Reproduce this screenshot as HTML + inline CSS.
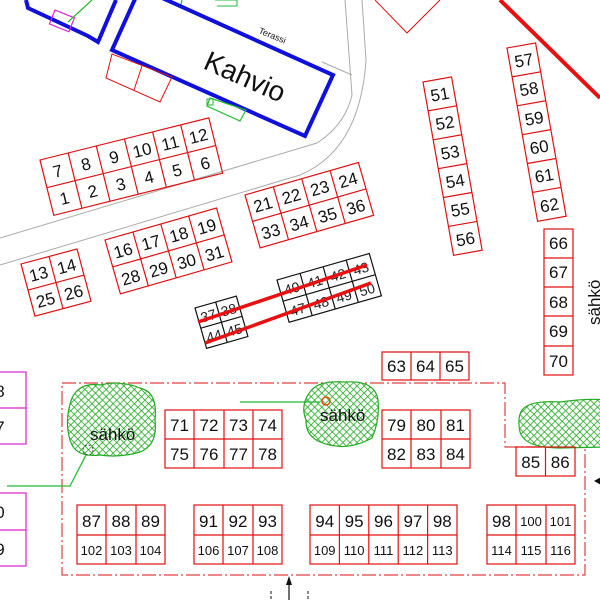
<!DOCTYPE html>
<html><head><meta charset="utf-8"><style>
html,body{margin:0;padding:0;background:#fff;width:600px;height:600px;overflow:hidden}
svg{display:block}
text{font-family:"Liberation Sans","DejaVu Sans",sans-serif;fill:#111}
.c{fill:none;stroke:#e01010;stroke-width:1.2}
.k{fill:none;stroke:#111;stroke-width:1.2}
.n{font-size:17px;text-anchor:middle}
.s{font-size:13px;text-anchor:middle}
.t{font-size:14px;text-anchor:middle;fill:#222}
</style></head><body>
<svg width="600" height="600" viewBox="0 0 600 600" xmlns="http://www.w3.org/2000/svg">
<defs>
<pattern id="h" width="5" height="5" patternUnits="userSpaceOnUse" patternTransform="rotate(45)">
<rect width="5" height="5" fill="#fff"/>
<line x1="0" y1="0" x2="0" y2="5" stroke="#22aa22" stroke-width="1.6"/>
<line x1="0" y1="0" x2="5" y2="0" stroke="#22aa22" stroke-width="1.6"/>
</pattern>
</defs>

<!-- road lines -->
<path d="M0,238 L317,143 Q345,125 352,95 L345,0" fill="none" stroke="#aaa" stroke-width="1"/>
<path d="M0,265 L300,175 Q360,150 366,60 L362,0" fill="none" stroke="#aaa" stroke-width="1"/>
<line x1="322" y1="62" x2="352" y2="75" stroke="#aaa" stroke-width="1"/>

<!-- top-left building -->
<polyline points="26,0 28,8 88,36 98,42 116,0" fill="none" stroke="#1010dd" stroke-width="4"/>
<rect x="55" y="10" width="21" height="15" transform="rotate(22 55 10)" fill="none" stroke="#dd22cc" stroke-width="1.2"/>
<line x1="68" y1="22" x2="92" y2="0" stroke="#22bb33" stroke-width="1.2"/>

<!-- terrace -->
<polyline points="182,0 180,8 M215,0 L312,40 318,46 316,50 325,54 315,68" fill="none" stroke="#22bb33" stroke-width="1.3"/>
<polyline points="215,0 237,0 237,6 217,6" fill="none" stroke="#22bb33" stroke-width="1"/>
<text x="258" y="33" font-size="9" transform="rotate(22 258 33)" fill="#222">Terassi</text>

<!-- Kahvio -->
<polygon points="140,-12 333,75 305,136 112,50" fill="#fff" stroke="#1010dd" stroke-width="4"/>
<text x="202" y="68" font-size="28" transform="rotate(24 202 68)" fill="#111">Kahvio</text>
<!-- red squares under building -->
<polygon points="112,54 106,78 160,102 172,77" fill="none" stroke="#e01010" stroke-width="1"/>
<line x1="142" y1="66" x2="134" y2="90" stroke="#e01010" stroke-width="1"/>
<polygon points="210,98 207,106 240,121 246,110" fill="none" stroke="#22bb33" stroke-width="1.2"/>
<rect x="207" y="99" width="6" height="6" fill="none" stroke="#22bb33" stroke-width="1"/>

<!-- top red diamond and thick line -->
<polyline points="375,0 407,33 440,0" fill="none" stroke="#e01010" stroke-width="1"/>
<line x1="500" y1="0" x2="600" y2="98" stroke="#e81010" stroke-width="4"/>

<!-- block 1-12 -->
<g transform="translate(40,160) rotate(-14)">
<rect class="c" x="0" y="0" width="174" height="57"/>
<line class="c" x1="0" y1="28.5" x2="174" y2="28.5"/>
<line class="c" x1="29" y1="0" x2="29" y2="57"/><line class="c" x1="58" y1="0" x2="58" y2="57"/><line class="c" x1="87" y1="0" x2="87" y2="57"/><line class="c" x1="116" y1="0" x2="116" y2="57"/><line class="c" x1="145" y1="0" x2="145" y2="57"/>
<text class="n" x="14.5" y="21">7</text><text class="n" x="43.5" y="21">8</text><text class="n" x="72.5" y="21">9</text><text class="n" x="101.5" y="21">10</text><text class="n" x="130.5" y="21">11</text><text class="n" x="159.5" y="21">12</text>
<text class="n" x="14.5" y="49">1</text><text class="n" x="43.5" y="49">2</text><text class="n" x="72.5" y="49">3</text><text class="n" x="101.5" y="49">4</text><text class="n" x="130.5" y="49">5</text><text class="n" x="159.5" y="49">6</text>
</g>

<!-- block 16-31 -->
<g transform="translate(105,240) rotate(-16)">
<rect class="c" x="0" y="0" width="116" height="56"/>
<line class="c" x1="0" y1="28" x2="116" y2="28"/>
<line class="c" x1="29" y1="0" x2="29" y2="56"/><line class="c" x1="58" y1="0" x2="58" y2="56"/><line class="c" x1="87" y1="0" x2="87" y2="56"/>
<text class="n" x="14.5" y="21">16</text><text class="n" x="43.5" y="21">17</text><text class="n" x="72.5" y="21">18</text><text class="n" x="101.5" y="21">19</text>
<text class="n" x="14.5" y="49">28</text><text class="n" x="43.5" y="49">29</text><text class="n" x="72.5" y="49">30</text><text class="n" x="101.5" y="49">31</text>
</g>

<!-- block 13-26 -->
<g transform="translate(21,264) rotate(-15)">
<rect class="c" x="0" y="0" width="58" height="54"/>
<line class="c" x1="0" y1="27" x2="58" y2="27"/><line class="c" x1="29" y1="0" x2="29" y2="54"/>
<text class="n" x="14.5" y="20">13</text><text class="n" x="43.5" y="20">14</text>
<text class="n" x="14.5" y="47">25</text><text class="n" x="43.5" y="47">26</text>
</g>

<!-- block 21-36 -->
<g transform="translate(245,195) rotate(-16)">
<rect class="c" x="0" y="0" width="118" height="55"/>
<line class="c" x1="0" y1="27.5" x2="118" y2="27.5"/>
<line class="c" x1="29.5" y1="0" x2="29.5" y2="55"/><line class="c" x1="59" y1="0" x2="59" y2="55"/><line class="c" x1="88.5" y1="0" x2="88.5" y2="55"/>
<text class="n" x="14.7" y="20">21</text><text class="n" x="44.2" y="20">22</text><text class="n" x="73.7" y="20">23</text><text class="n" x="103.2" y="20">24</text>
<text class="n" x="14.7" y="48">33</text><text class="n" x="44.2" y="48">34</text><text class="n" x="73.7" y="48">35</text><text class="n" x="103.2" y="48">36</text>
</g>

<!-- black blocks -->
<g transform="translate(195,308) rotate(-16)">
<rect class="k" x="0" y="0" width="43" height="42"/>
<line class="k" x1="0" y1="21" x2="43" y2="21"/><line class="k" x1="21.5" y1="0" x2="21.5" y2="42"/>
<text class="t" x="10.7" y="16">37</text><text class="t" x="32" y="16">38</text>
<text class="t" x="10.7" y="37">44</text><text class="t" x="32" y="37">45</text>
</g>
<g transform="translate(277,280) rotate(-16)">
<rect class="k" x="0" y="0" width="96" height="44"/>
<line class="k" x1="0" y1="22" x2="96" y2="22"/>
<line class="k" x1="24" y1="0" x2="24" y2="44"/><line class="k" x1="48" y1="0" x2="48" y2="44"/><line class="k" x1="72" y1="0" x2="72" y2="44"/>
<text class="t" x="12" y="17">40</text><text class="t" x="36" y="17">41</text><text class="t" x="60" y="17">42</text><text class="t" x="84" y="17">43</text>
<text class="t" x="12" y="39">47</text><text class="t" x="36" y="39">48</text><text class="t" x="60" y="39">49</text><text class="t" x="84" y="39">50</text>
</g>
<line x1="198" y1="322" x2="367" y2="265" stroke="#e81010" stroke-width="3.5"/>
<line x1="205" y1="343" x2="371" y2="283" stroke="#e81010" stroke-width="3.5"/>

<!-- 51-56 -->
<g transform="translate(423,82) rotate(-10)">
<rect class="c" x="0" y="0" width="29" height="176"/>
<line class="c" x1="0" y1="29.3" x2="29" y2="29.3"/><line class="c" x1="0" y1="58.7" x2="29" y2="58.7"/><line class="c" x1="0" y1="88" x2="29" y2="88"/><line class="c" x1="0" y1="117.3" x2="29" y2="117.3"/><line class="c" x1="0" y1="146.7" x2="29" y2="146.7"/>
<text class="n" x="14.5" y="21">51</text><text class="n" x="14.5" y="50">52</text><text class="n" x="14.5" y="80">53</text><text class="n" x="14.5" y="109">54</text><text class="n" x="14.5" y="138">55</text><text class="n" x="14.5" y="168">56</text>
</g>

<!-- 57-62 -->
<g transform="translate(507,48) rotate(-10)">
<rect class="c" x="0" y="0" width="29" height="176"/>
<line class="c" x1="0" y1="29.3" x2="29" y2="29.3"/><line class="c" x1="0" y1="58.7" x2="29" y2="58.7"/><line class="c" x1="0" y1="88" x2="29" y2="88"/><line class="c" x1="0" y1="117.3" x2="29" y2="117.3"/><line class="c" x1="0" y1="146.7" x2="29" y2="146.7"/>
<text class="n" x="14.5" y="21">57</text><text class="n" x="14.5" y="50">58</text><text class="n" x="14.5" y="80">59</text><text class="n" x="14.5" y="109">60</text><text class="n" x="14.5" y="138">61</text><text class="n" x="14.5" y="168">62</text>
</g>

<!-- 66-70 -->
<rect class="c" x="544" y="229" width="29" height="146"/>
<line class="c" x1="544" y1="258" x2="573" y2="258"/><line class="c" x1="544" y1="287" x2="573" y2="287"/><line class="c" x1="544" y1="316" x2="573" y2="316"/><line class="c" x1="544" y1="346" x2="573" y2="346"/>
<text class="n" x="558.5" y="249">66</text><text class="n" x="558.5" y="278">67</text><text class="n" x="558.5" y="308">68</text><text class="n" x="558.5" y="337">69</text><text class="n" x="558.5" y="367">70</text>
<text x="600" y="325" font-size="17" transform="rotate(-90 600 325)">sähkö</text>

<!-- 63-65 -->
<rect class="c" x="382" y="352" width="87" height="28"/>
<line class="c" x1="411" y1="352" x2="411" y2="380"/><line class="c" x1="440" y1="352" x2="440" y2="380"/>
<text class="n" x="396.5" y="372">63</text><text class="n" x="425.5" y="372">64</text><text class="n" x="454.5" y="372">65</text>

<!-- magenta left -->
<g fill="none" stroke="#dd22cc" stroke-width="1.2">
<rect x="-5" y="372" width="31" height="72"/><line x1="-5" y1="408" x2="26" y2="408"/>
<rect x="-5" y="493" width="31" height="73"/><line x1="-5" y1="530" x2="26" y2="530"/>
</g>
<text class="n" x="0" y="397">8</text><text class="n" x="0" y="433">7</text><text class="n" x="0" y="518">0</text><text class="n" x="0" y="555">9</text>

<!-- dash-dot outline -->
<polyline points="62,383 505,383 505,447 585,447 585,575 62,575 62,383" fill="none" stroke="#e04040" stroke-width="1.2" stroke-dasharray="14,3,2,3"/>

<!-- green blobs -->
<path d="M72,398 Q80,382 100,385 Q120,380 140,388 Q158,392 155,420 Q158,445 140,452 Q120,458 100,455 Q75,458 70,440 Q64,420 72,398Z" fill="url(#h)" stroke="#22aa22" stroke-width="1.2"/>
<text x="90" y="440" font-size="17">sähkö</text>
<circle cx="88" cy="450" r="5" fill="none" stroke="#222" stroke-width="0.8" stroke-dasharray="2,2"/>
<polyline points="86,455 70,486 7,486" fill="none" stroke="#22bb33" stroke-width="1.3"/>

<path d="M310,392 Q318,380 345,382 Q375,380 378,400 Q380,420 372,438 Q350,450 330,445 Q305,440 306,420 Q300,405 310,392Z" fill="url(#h)" stroke="#22aa22" stroke-width="1.2"/>
<text x="320" y="421" font-size="17">sähkö</text>
<circle cx="326" cy="401" r="4" fill="none" stroke="#e05010" stroke-width="1.5"/>
<line x1="240" y1="402" x2="320" y2="402" stroke="#22bb33" stroke-width="1.3"/>

<path d="M522,410 Q530,400 560,402 Q590,398 605,400 L605,447 L560,448 Q525,448 520,432 Q517,418 522,410Z" fill="url(#h)" stroke="#22aa22" stroke-width="1.2"/>

<!-- 71-78 -->
<rect class="c" x="165" y="410" width="117" height="58"/>
<line class="c" x1="165" y1="439" x2="282" y2="439"/>
<line class="c" x1="194" y1="410" x2="194" y2="468"/><line class="c" x1="224" y1="410" x2="224" y2="468"/><line class="c" x1="253" y1="410" x2="253" y2="468"/>
<text class="n" x="179.5" y="431">71</text><text class="n" x="209" y="431">72</text><text class="n" x="238.5" y="431">73</text><text class="n" x="267.5" y="431">74</text>
<text class="n" x="179.5" y="460">75</text><text class="n" x="209" y="460">76</text><text class="n" x="238.5" y="460">77</text><text class="n" x="267.5" y="460">78</text>

<!-- 79-84 -->
<rect class="c" x="382" y="410" width="88" height="58"/>
<line class="c" x1="382" y1="439" x2="470" y2="439"/>
<line class="c" x1="411" y1="410" x2="411" y2="468"/><line class="c" x1="441" y1="410" x2="441" y2="468"/>
<text class="n" x="396.5" y="431">79</text><text class="n" x="426" y="431">80</text><text class="n" x="455.5" y="431">81</text>
<text class="n" x="396.5" y="460">82</text><text class="n" x="426" y="460">83</text><text class="n" x="455.5" y="460">84</text>

<!-- 85-86 -->
<rect class="c" x="516" y="447" width="59" height="29"/>
<line class="c" x1="545.5" y1="447" x2="545.5" y2="476"/>
<text class="n" x="530.7" y="468">85</text><text class="n" x="560.2" y="468">86</text>

<!-- bottom row -->
<g>
<rect class="c" x="77" y="505" width="88" height="59"/><line class="c" x1="77" y1="535" x2="165" y2="535"/>
<line class="c" x1="106" y1="505" x2="106" y2="564"/><line class="c" x1="136" y1="505" x2="136" y2="564"/>
<text class="n" x="91.5" y="527">87</text><text class="n" x="121" y="527">88</text><text class="n" x="150.5" y="527">89</text>
<text class="s" x="91.5" y="555">102</text><text class="s" x="121" y="555">103</text><text class="s" x="150.5" y="555">104</text>

<rect class="c" x="194" y="505" width="88" height="59"/><line class="c" x1="194" y1="535" x2="282" y2="535"/>
<line class="c" x1="223" y1="505" x2="223" y2="564"/><line class="c" x1="253" y1="505" x2="253" y2="564"/>
<text class="n" x="208.5" y="527">91</text><text class="n" x="238" y="527">92</text><text class="n" x="267.5" y="527">93</text>
<text class="s" x="208.5" y="555">106</text><text class="s" x="238" y="555">107</text><text class="s" x="267.5" y="555">108</text>

<rect class="c" x="310" y="505" width="147" height="59"/><line class="c" x1="310" y1="535" x2="457" y2="535"/>
<line class="c" x1="339.4" y1="505" x2="339.4" y2="564"/><line class="c" x1="368.8" y1="505" x2="368.8" y2="564"/><line class="c" x1="398.2" y1="505" x2="398.2" y2="564"/><line class="c" x1="427.6" y1="505" x2="427.6" y2="564"/>
<text class="n" x="324.7" y="527">94</text><text class="n" x="354.1" y="527">95</text><text class="n" x="383.5" y="527">96</text><text class="n" x="412.9" y="527">97</text><text class="n" x="442.3" y="527">98</text>
<text class="s" x="324.7" y="555">109</text><text class="s" x="354.1" y="555">110</text><text class="s" x="383.5" y="555">111</text><text class="s" x="412.9" y="555">112</text><text class="s" x="442.3" y="555">113</text>

<rect class="c" x="487" y="505" width="88" height="59"/><line class="c" x1="487" y1="535" x2="575" y2="535"/>
<line class="c" x1="516" y1="505" x2="516" y2="564"/><line class="c" x1="546" y1="505" x2="546" y2="564"/>
<text class="n" x="501.5" y="527">98</text><text class="s" x="531" y="526">100</text><text class="s" x="560.5" y="526">101</text>
<text class="s" x="501.5" y="555">114</text><text class="s" x="531" y="555">115</text><text class="s" x="560.5" y="555">116</text>
</g>

<!-- arrows -->
<line x1="289" y1="582" x2="289" y2="600" stroke="#111" stroke-width="1.2"/>
<polygon points="289,576 286,585 292,585" fill="#111"/>
<line x1="271" y1="591" x2="271" y2="600" stroke="#111" stroke-width="1" stroke-dasharray="3,2"/>
<line x1="308" y1="591" x2="308" y2="600" stroke="#111" stroke-width="1" stroke-dasharray="3,2"/>
<polygon points="594,481 601,477 601,485" fill="#111"/>
</svg>
</body></html>
